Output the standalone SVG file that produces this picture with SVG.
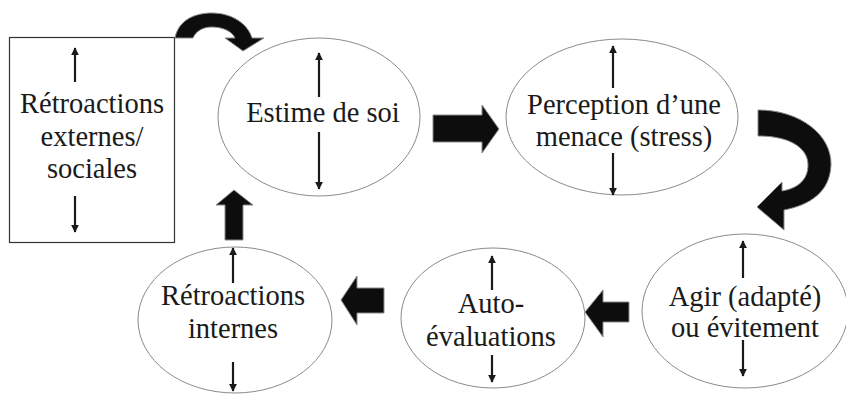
<svg xmlns="http://www.w3.org/2000/svg" width="846" height="394" viewBox="0 0 846 394">
<style>
.el{fill:#fff;stroke:#8a8a8a;stroke-width:1}
.bx{fill:#fff;stroke:#333;stroke-width:1.2}
text{font-family:'Liberation Serif','Times New Roman',Tinos,'DejaVu Serif',serif;font-size:28.5px;fill:#1a1a1a;text-anchor:middle}
.sa{stroke:#1a1a1a;stroke-width:2.2;fill:none}
.big{fill:#0d0d0d;stroke:#8a8a8a;stroke-width:1}
</style>
<defs>
<marker id="ah" viewBox="0 0 10 10" refX="9" refY="5" markerWidth="3.6" markerHeight="4" orient="auto" markerUnits="strokeWidth">
<path d="M0,0 L10,5 L0,10 Z" fill="#1a1a1a"/>
</marker>
</defs>
<rect width="846" height="394" fill="#fff"/>

<g id="node-externes" font-family="Liberation Serif, serif">
<rect class="bx" x="9.5" y="37.5" width="165" height="205"/>
<text x="92" y="113">Rétroactions</text>
<text x="92" y="146">externes/</text>
<text x="92" y="178">sociales</text>
<line class="sa" x1="75" y1="82" x2="75" y2="48" marker-end="url(#ah)"/>
<line class="sa" x1="75" y1="196" x2="75" y2="232" marker-end="url(#ah)"/>
</g>

<g id="node-estime">
<ellipse class="el" cx="319" cy="117" rx="101" ry="79"/>
<text x="323" y="122">Estime de soi</text>
<line class="sa" x1="319" y1="97" x2="319" y2="53" marker-end="url(#ah)"/>
<line class="sa" x1="319" y1="132" x2="319" y2="189" marker-end="url(#ah)"/>
</g>

<g id="node-perception">
<ellipse class="el" cx="622" cy="117" rx="116" ry="78"/>
<text x="624" y="114">Perception d’une</text>
<text x="624" y="146">menace (stress)</text>
<line class="sa" x1="613" y1="88" x2="613" y2="46" marker-end="url(#ah)"/>
<line class="sa" x1="613" y1="153" x2="613" y2="195" stroke-width="1.5" marker-end="url(#ah)"/>
</g>

<g id="node-agir">
<ellipse class="el" cx="745" cy="311" rx="103" ry="77"/>
<text x="745" y="306">Agir (adapté)</text>
<text x="745" y="337">ou évitement</text>
<line class="sa" x1="743" y1="278" x2="743" y2="241" marker-end="url(#ah)"/>
<line class="sa" x1="743" y1="340" x2="743" y2="376" stroke-width="1.5" marker-end="url(#ah)"/>
</g>

<g id="node-auto">
<ellipse class="el" cx="493" cy="318" rx="92" ry="70"/>
<text x="491" y="313">Auto-</text>
<text x="491" y="346">évaluations</text>
<line class="sa" x1="492" y1="290" x2="492" y2="256" marker-end="url(#ah)"/>
<line class="sa" x1="492" y1="355" x2="492" y2="382" marker-end="url(#ah)"/>
</g>

<g id="node-internes">
<ellipse class="el" cx="235" cy="320" rx="97" ry="73"/>
<text x="233" y="305">Rétroactions</text>
<text x="233" y="338">internes</text>
<line class="sa" x1="233" y1="283" x2="233" y2="248" marker-end="url(#ah)"/>
<line class="sa" x1="233" y1="362" x2="233" y2="391" marker-end="url(#ah)"/>
</g>

<g id="connectors">
<path class="big" d="M175,38 C178,22 192,13 212,13 C232,13 248,24 252,38 L264,38 L243,51 L225,38 L235,38 C232,31 222,27 212,27 C203,27 196,31 193,38 Z"/>
<path class="big" d="M433,115 L482,115 L482,105 L499,129 L482,153 L482,142 L433,142 Z"/>
<path class="big" d="M758,110 C800,110 832,135 831,165 C830,192 810,205 784,210 L784,230 L757,207 L782,182 L782,191 C800,188 808,178 808,165 C808,148 790,136 758,136 Z"/>
<path class="big" d="M629,302 L603,302 L603,290 L585,312 L603,337 L603,322 L629,322 Z"/>
<path class="big" d="M384,288 L357,288 L357,276 L341,300 L357,325 L357,313 L384,313 Z"/>
<path class="big" d="M225,240 L225,205 L216,205 L234,190 L253,205 L243,205 L243,240 Z"/>
</g>
</svg>
